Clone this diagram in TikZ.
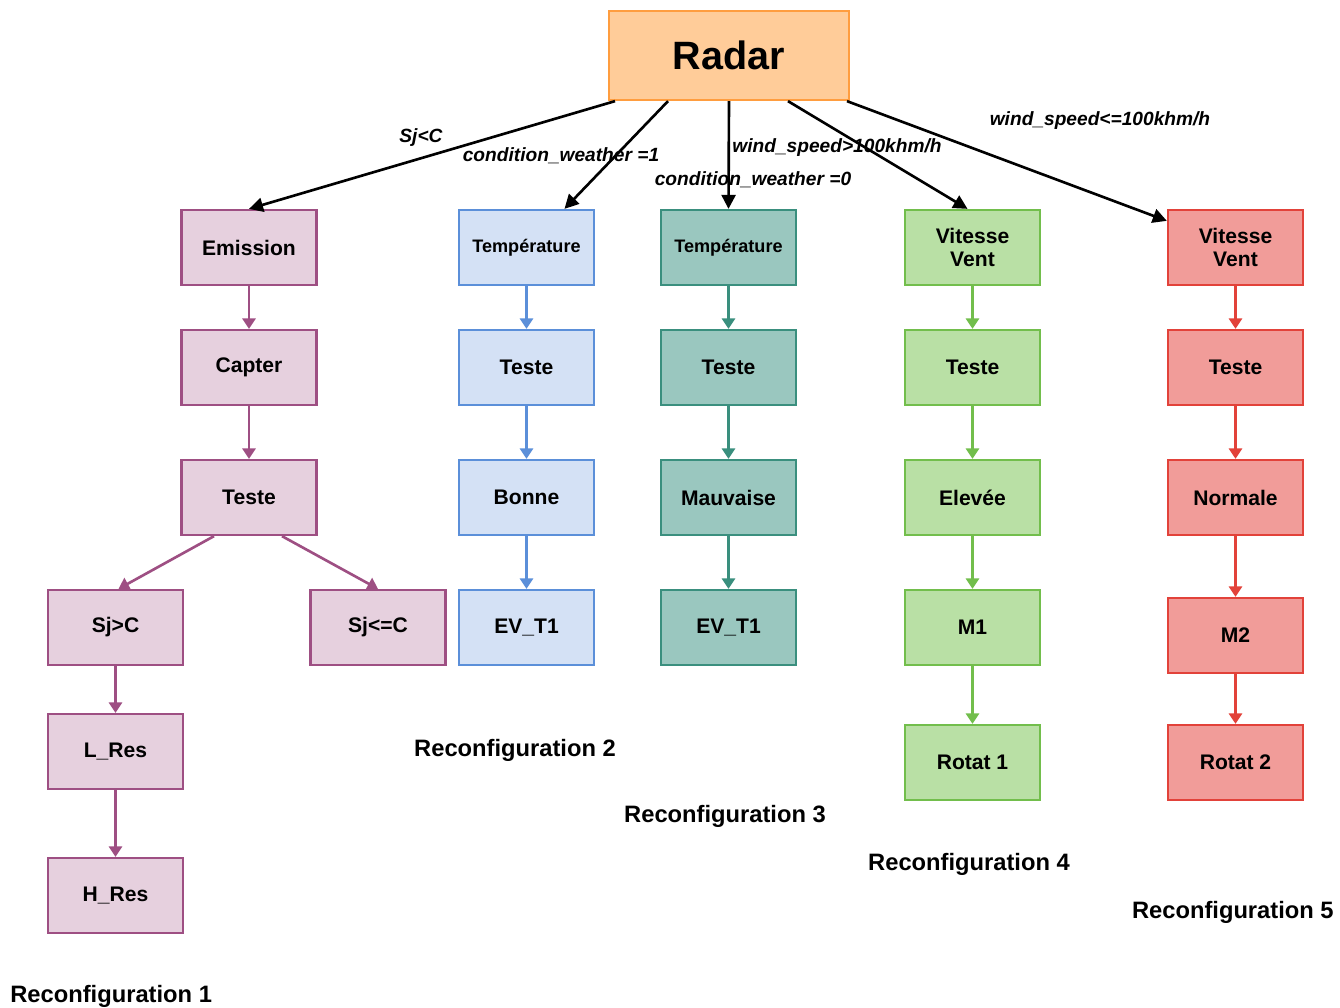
\documentclass[tikz,border=0pt]{standalone}
\usepackage{fontspec}
\setmainfont{Liberation Sans}
\usetikzlibrary{arrows.meta,calc}

\definecolor{radarfill}{HTML}{FFCC99}
\definecolor{radardraw}{HTML}{FF9D3F}
\definecolor{pinkfill}{HTML}{E6D0DE}
\definecolor{pinkdraw}{HTML}{9E4F83}
\definecolor{bluefill}{HTML}{D4E1F5}
\definecolor{bluedraw}{HTML}{5B8FD9}
\definecolor{tealfill}{HTML}{9AC7BF}
\definecolor{tealdraw}{HTML}{3A8F7E}
\definecolor{greenfill}{HTML}{B9E0A5}
\definecolor{greendraw}{HTML}{72BE4C}
\definecolor{redfill}{HTML}{F19C99}
\definecolor{reddraw}{HTML}{E2423A}

\tikzset{
  box/.style={rectangle, minimum width=2.7cm, minimum height=1.5cm, inner sep=0pt,
    line width=1.3pt, font=\fontsize{12}{13}\selectfont\bfseries, align=center},
  pinkbox/.style={box, fill=pinkfill, draw=pinkdraw},
  bluebox/.style={box, fill=bluefill, draw=bluedraw},
  tealbox/.style={box, fill=tealfill, draw=tealdraw},
  greenbox/.style={box, fill=greenfill, draw=greendraw},
  redbox/.style={box, fill=redfill, draw=reddraw},
  smalltext/.style={font=\fontsize{10.3}{11}\selectfont\bfseries},
  flow/.style={line width=1.5pt, -{Triangle[length=6pt,width=7.5pt]}},
  pinkflow/.style={flow, draw=pinkdraw, fill=pinkdraw},
  blueflow/.style={flow, draw=bluedraw, fill=bluedraw},
  tealflow/.style={flow, draw=tealdraw, fill=tealdraw},
  greenflow/.style={flow, draw=greendraw, fill=greendraw},
  redflow/.style={flow, draw=reddraw, fill=reddraw},
  mainflow/.style={line width=1.5pt, draw=black, -{Triangle[length=8pt,width=8pt]}},
  cond/.style={font=\fontsize{10.9}{11}\selectfont\bfseries\itshape, inner sep=0pt},
  reconf/.style={font=\fontsize{13.5}{14}\selectfont\bfseries, inner sep=0pt},
}

\begin{document}
\begin{tikzpicture}[x=0.02cm, y=-0.02cm]
  \useasboundingbox (0,0) rectangle (1340,1008);

  % root
  \node[rectangle, minimum width=4.8cm, minimum height=1.78cm, inner sep=0pt,
        fill=radarfill, draw=radardraw, line width=1.3pt,
        font=\fontsize{22.5}{24}\selectfont\bfseries] (radar) at (729,55.5) {Radar};

  % branch 1: emission
  \node[pinkbox] (emi)  at (249,247.5) {Emission};
  \node[pinkbox] (cap)  at (249,367.5) {Capter};
  \node[pinkbox] (tst1) at (249,497.5) {Teste};
  \node[pinkbox] (sjg)  at (115.5,627.5) {Sj>C};
  \node[pinkbox] (sjle) at (378,627.5) {Sj<=C};
  \node[pinkbox] (lres) at (115.5,751.5) {L\_Res};
  \node[pinkbox] (hres) at (115.5,895.5) {H\_Res};

  % branch 2: good weather
  \node[bluebox, smalltext] (tmp2) at (526.5,247.5) {Température};
  \node[bluebox] (tst2) at (526.5,367.5) {Teste};
  \node[bluebox] (bon)  at (526.5,497.5) {Bonne};
  \node[bluebox] (ev2)  at (526.5,627.5) {EV\_T1};

  % branch 3: bad weather
  \node[tealbox, smalltext] (tmp3) at (728.5,247.5) {Température};
  \node[tealbox] (tst3) at (728.5,367.5) {Teste};
  \node[tealbox] (mau)  at (728.5,497.5) {Mauvaise};
  \node[tealbox] (ev3)  at (728.5,627.5) {EV\_T1};

  % branch 4: high wind
  \node[greenbox] (vv4) at (972.5,247.5) {Vitesse\\Vent};
  \node[greenbox] (tst4) at (972.5,367.5) {Teste};
  \node[greenbox] (ele) at (972.5,497.5) {Elevée};
  \node[greenbox] (m1)  at (972.5,627.5) {M1};
  \node[greenbox] (rot1) at (972.5,762.5) {Rotat 1};

  % branch 5: normal wind
  \node[redbox] (vv5) at (1235.5,247.5) {Vitesse\\Vent};
  \node[redbox] (tst5) at (1235.5,367.5) {Teste};
  \node[redbox] (nor) at (1235.5,497.5) {Normale};
  \node[redbox] (m2)  at (1235.5,635.5) {M2};
  \node[redbox] (rot2) at (1235.5,762.5) {Rotat 2};

  % connectors from the root
  \draw[mainflow] ($(radar.south)+(-114,0)$) -- (emi.north);
  \draw[mainflow] ($(radar.south)+(-61,0)$) -- ($(tmp2.north)+(38,0)$);
  \draw[mainflow] (radar.south) -- (tmp3.north);
  \draw[mainflow] ($(radar.south)+(59,0)$) -- ($(vv4.north)+(-5,0)$);
  \draw[mainflow] ($(radar.south)+(118,0)$) -- ($(vv5.north west)+(0,12)$);

  % conditions
  \node[cond] (c1) at (421,138) {Sj<C};
  \node[cond] (c2) at (561,156) {condition\_weather =1};
  \node[cond] (c3) at (837,148) {wind\_speed>100khm/h};
  \node[cond] (c4) at (753,180) {condition\_weather =0};
  \node[cond] (c5) at (1100,121) {wind\_speed<=100khm/h};

  % branch connectors
  \draw[pinkflow] (emi) -- (cap);
  \draw[pinkflow] (cap) -- (tst1);
  \draw[pinkflow] ($(tst1.south)+(-35,0)$) -- ($(sjg.north)+(3,0)$);
  \draw[pinkflow] ($(tst1.south)+(33,0)$) -- (sjle.north);
  \draw[pinkflow] (sjg) -- (lres);
  \draw[pinkflow] (lres) -- (hres);

  \draw[blueflow] (tmp2) -- (tst2);
  \draw[blueflow] (tst2) -- (bon);
  \draw[blueflow] (bon) -- (ev2);

  \draw[tealflow] (tmp3) -- (tst3);
  \draw[tealflow] (tst3) -- (mau);
  \draw[tealflow] (mau) -- (ev3);

  \draw[greenflow] (vv4) -- (tst4);
  \draw[greenflow] (tst4) -- (ele);
  \draw[greenflow] (ele) -- (m1);
  \draw[greenflow] (m1) -- (rot1);

  \draw[redflow] (vv5) -- (tst5);
  \draw[redflow] (tst5) -- (nor);
  \draw[redflow] (nor) -- (m2);
  \draw[redflow] (m2) -- (rot2);

  % group captions
  \node[reconf, anchor=west] (r1) at (10,996) {Reconfiguration 1};
  \node[reconf] (r2) at (515,750) {Reconfiguration 2};
  \node[reconf] (r3) at (725,816) {Reconfiguration 3};
  \node[reconf] (r4) at (969,864) {Reconfiguration 4};
  \node[reconf, anchor=east] (r5) at (1334,912) {Reconfiguration 5};
\end{tikzpicture}
\end{document}
